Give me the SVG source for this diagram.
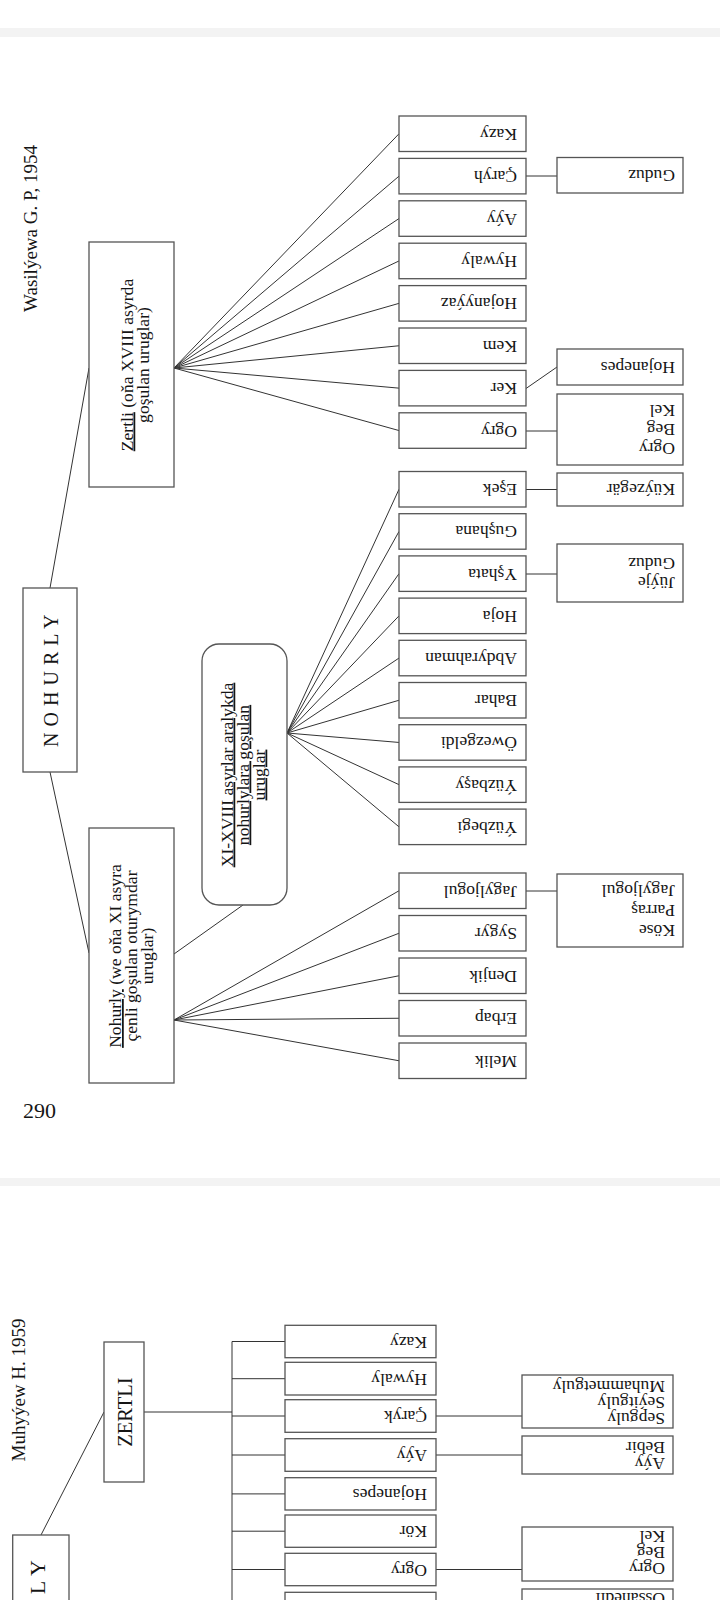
<svg xmlns="http://www.w3.org/2000/svg" width="720" height="1600" viewBox="0 0 720 1600">
<style>
.bg{fill:#ffffff}
.band{fill:#f3f3f3}
.box{fill:#ffffff;stroke:#555555;stroke-width:1.3}
.ln{stroke:#333333;stroke-width:1;fill:none}
.t{font-family:"Liberation Serif","Times New Roman",serif;font-size:17.6px;fill:#151515}
.u{text-decoration:underline}
.head{font-family:"Liberation Serif","Times New Roman",serif;font-size:19px;fill:#151515}
</style>
<rect class="bg" x="0" y="0" width="720" height="1600"/>
<rect class="band" x="0" y="28" width="720" height="9"/>
<rect class="band" x="0" y="1178" width="720" height="8"/>

<!-- connectors -->
<g id="connectors">
  <!-- page 1 -->
  <line class="ln" x1="50" y1="588" x2="89" y2="368"/>
  <line class="ln" x1="50" y1="772" x2="89" y2="953"/>
  <line class="ln" x1="174" y1="954" x2="243" y2="905"/>
  <!-- Zertli fan -->
  <line class="ln" x1="174" y1="368" x2="399" y2="133.75"/>
  <line class="ln" x1="174" y1="368" x2="399" y2="176.15"/>
  <line class="ln" x1="174" y1="368" x2="399" y2="218.55"/>
  <line class="ln" x1="174" y1="368" x2="399" y2="260.95"/>
  <line class="ln" x1="174" y1="368" x2="399" y2="303.35"/>
  <line class="ln" x1="174" y1="368" x2="399" y2="345.75"/>
  <line class="ln" x1="174" y1="368" x2="399" y2="388.15"/>
  <line class="ln" x1="174" y1="368" x2="399" y2="430.55"/>
  <!-- XI-XVIII fan -->
  <line class="ln" x1="287" y1="733" x2="399" y2="489.25"/>
  <line class="ln" x1="287" y1="733" x2="399" y2="531.45"/>
  <line class="ln" x1="287" y1="733" x2="399" y2="573.65"/>
  <line class="ln" x1="287" y1="733" x2="399" y2="615.85"/>
  <line class="ln" x1="287" y1="733" x2="399" y2="658.05"/>
  <line class="ln" x1="287" y1="733" x2="399" y2="700.25"/>
  <line class="ln" x1="287" y1="733" x2="399" y2="742.45"/>
  <line class="ln" x1="287" y1="733" x2="399" y2="784.65"/>
  <line class="ln" x1="287" y1="733" x2="399" y2="826.85"/>
  <!-- Nohurly fan -->
  <line class="ln" x1="174" y1="1020" x2="399" y2="890.75"/>
  <line class="ln" x1="174" y1="1020" x2="399" y2="933.25"/>
  <line class="ln" x1="174" y1="1020" x2="399" y2="975.75"/>
  <line class="ln" x1="174" y1="1020" x2="399" y2="1018.25"/>
  <line class="ln" x1="174" y1="1020" x2="399" y2="1060.75"/>
  <!-- sub links page 1 -->
  <line class="ln" x1="526" y1="176" x2="557" y2="176"/>
  <line class="ln" x1="526" y1="388.5" x2="557" y2="367"/>
  <line class="ln" x1="526" y1="431" x2="557" y2="431"/>
  <line class="ln" x1="526" y1="489.5" x2="557" y2="489.5"/>
  <line class="ln" x1="526" y1="574" x2="557" y2="574"/>
  <line class="ln" x1="526" y1="891" x2="557" y2="891"/>
  <!-- page 2 -->
  <line class="ln" x1="41" y1="1535" x2="104" y2="1412"/>
  <line class="ln" x1="144" y1="1412" x2="232" y2="1412"/>
  <line class="ln" x1="232" y1="1341.5" x2="232" y2="1600"/>
  <line class="ln" x1="232" y1="1341.5" x2="285" y2="1341.5"/>
  <line class="ln" x1="232" y1="1378.7" x2="285" y2="1378.7"/>
  <line class="ln" x1="232" y1="1416" x2="285" y2="1416"/>
  <line class="ln" x1="232" y1="1455" x2="285" y2="1455"/>
  <line class="ln" x1="232" y1="1493.9" x2="285" y2="1493.9"/>
  <line class="ln" x1="232" y1="1531.2" x2="285" y2="1531.2"/>
  <line class="ln" x1="232" y1="1569.5" x2="285" y2="1569.5"/>
  <line class="ln" x1="436" y1="1416" x2="522" y2="1416"/>
  <line class="ln" x1="436" y1="1455" x2="522" y2="1455"/>
  <line class="ln" x1="436" y1="1569.5" x2="522" y2="1569.5"/>
</g>

<!-- page 1 headers -->
<text class="head" x="37" y="228.5" text-anchor="middle" transform="rotate(-90 37 228.5)">Wasilýewa G. P, 1954</text>
<text class="t" x="23" y="1118" style="font-size:22px">290</text>

<g id="nohurly1">
  <rect class="box" x="23" y="588" width="54" height="184"/>
  <text class="t" x="57.5" y="680.5" text-anchor="middle" style="font-size:20px;letter-spacing:0.5px" transform="rotate(-90 57.5 680.5)">N O H U R L Y</text>
</g>

<g id="zertli1">
  <rect class="box" x="89" y="242" width="85" height="245"/>
  <text class="t" x="132.5" y="365" text-anchor="middle" transform="rotate(-90 132.5 365)"><tspan class="u">Zertli</tspan> (oňa XVIII asyrda</text>
  <text class="t" x="148.5" y="365" text-anchor="middle" transform="rotate(-90 148.5 365)">goşulan uruglar)</text>
</g>

<g id="nohurlybox">
  <rect class="box" x="89" y="828" width="85" height="255"/>
  <text class="t" x="121" y="956" text-anchor="middle" transform="rotate(-90 121 956)"><tspan class="u">Nohurly</tspan> (we oňa XI asyra</text>
  <text class="t" x="137" y="956" text-anchor="middle" transform="rotate(-90 137 956)">çenli goşulan oturymdar</text>
  <text class="t" x="153" y="956" text-anchor="middle" transform="rotate(-90 153 956)">uruglar)</text>
</g>

<g id="xi-xviii">
  <rect class="box" x="202" y="644" width="85" height="261" rx="17" ry="17"/>
  <text class="t u" x="232.5" y="775" text-anchor="middle" transform="rotate(-90 232.5 775)">XI-XVIII asyrlar aralykda</text>
  <text class="t u" x="248.5" y="775" text-anchor="middle" transform="rotate(-90 248.5 775)">nohurlylara goşulan</text>
  <text class="t u" x="264.5" y="775" text-anchor="middle" transform="rotate(-90 264.5 775)">uruglar</text>
</g>

<!-- page 1 children, group 1 -->
<g id="c-kazy"><rect class="box" x="399" y="116" width="127" height="35.5"/><text class="t" x="517" y="128.75" transform="rotate(180 517 128.75)">Kazy</text></g>
<g id="c-caryh"><rect class="box" x="399" y="158.4" width="127" height="35.5"/><text class="t" x="517" y="171.15" transform="rotate(180 517 171.15)">Çaryh</text></g>
<g id="c-ayy"><rect class="box" x="399" y="200.8" width="127" height="35.5"/><text class="t" x="517" y="213.55" transform="rotate(180 517 213.55)">Aýy</text></g>
<g id="c-hywaly"><rect class="box" x="399" y="243.2" width="127" height="35.5"/><text class="t" x="517" y="255.95" transform="rotate(180 517 255.95)">Hywaly</text></g>
<g id="c-hojanyyaz"><rect class="box" x="399" y="285.6" width="127" height="35.5"/><text class="t" x="517" y="298.35" transform="rotate(180 517 298.35)">Hojanyýaz</text></g>
<g id="c-kem"><rect class="box" x="399" y="328" width="127" height="35.5"/><text class="t" x="517" y="340.75" transform="rotate(180 517 340.75)">Kem</text></g>
<g id="c-ker"><rect class="box" x="399" y="370.4" width="127" height="35.5"/><text class="t" x="517" y="383.15" transform="rotate(180 517 383.15)">Ker</text></g>
<g id="c-ogry"><rect class="box" x="399" y="412.8" width="127" height="35.5"/><text class="t" x="517" y="425.55" transform="rotate(180 517 425.55)">Ogry</text></g>

<!-- group 2 -->
<g id="c-esek"><rect class="box" x="399" y="471.5" width="127" height="35.5"/><text class="t" x="517" y="484.25" transform="rotate(180 517 484.25)">Eşek</text></g>
<g id="c-gushana"><rect class="box" x="399" y="513.7" width="127" height="35.5"/><text class="t" x="517" y="526.45" transform="rotate(180 517 526.45)">Guşhana</text></g>
<g id="c-yshata"><rect class="box" x="399" y="555.9" width="127" height="35.5"/><text class="t" x="517" y="568.65" transform="rotate(180 517 568.65)">Yşhata</text></g>
<g id="c-hoja"><rect class="box" x="399" y="598.1" width="127" height="35.5"/><text class="t" x="517" y="610.85" transform="rotate(180 517 610.85)">Hoja</text></g>
<g id="c-abdyrahman"><rect class="box" x="399" y="640.3" width="127" height="35.5"/><text class="t" x="517" y="653.05" transform="rotate(180 517 653.05)">Abdyrahman</text></g>
<g id="c-bahar"><rect class="box" x="399" y="682.5" width="127" height="35.5"/><text class="t" x="517" y="695.25" transform="rotate(180 517 695.25)">Bahar</text></g>
<g id="c-owezgeldi"><rect class="box" x="399" y="724.7" width="127" height="35.5"/><text class="t" x="517" y="737.45" transform="rotate(180 517 737.45)">Öwezgeldi</text></g>
<g id="c-yuzbasy"><rect class="box" x="399" y="766.9" width="127" height="35.5"/><text class="t" x="517" y="779.65" transform="rotate(180 517 779.65)">Ýüzbaşy</text></g>
<g id="c-yuzbegi"><rect class="box" x="399" y="809.1" width="127" height="35.5"/><text class="t" x="517" y="821.85" transform="rotate(180 517 821.85)">Ýüzbegi</text></g>

<!-- group 3 -->
<g id="c-jagyljogul"><rect class="box" x="399" y="873" width="127" height="35.5"/><text class="t" x="517" y="885.75" transform="rotate(180 517 885.75)">Jagyljogul</text></g>
<g id="c-sygyr"><rect class="box" x="399" y="915.5" width="127" height="35.5"/><text class="t" x="517" y="928.25" transform="rotate(180 517 928.25)">Sygyr</text></g>
<g id="c-denjik"><rect class="box" x="399" y="958" width="127" height="35.5"/><text class="t" x="517" y="970.75" transform="rotate(180 517 970.75)">Denjik</text></g>
<g id="c-erbap"><rect class="box" x="399" y="1000.5" width="127" height="35.5"/><text class="t" x="517" y="1013.25" transform="rotate(180 517 1013.25)">Erbap</text></g>
<g id="c-melik"><rect class="box" x="399" y="1043" width="127" height="35.5"/><text class="t" x="517" y="1055.75" transform="rotate(180 517 1055.75)">Melik</text></g>

<!-- page 1 sub boxes -->
<g id="s-guduz"><rect class="box" x="557" y="157.5" width="126" height="35.5"/><text class="t" x="675" y="170.25" transform="rotate(180 675 170.25)">Guduz</text></g>
<g id="s-hojanepes"><rect class="box" x="557" y="349" width="126" height="36"/><text class="t" x="675" y="362" transform="rotate(180 675 362)">Hojanepes</text></g>
<g id="s-ogrybegkel"><rect class="box" x="557" y="394" width="126" height="71"/>
  <text class="t" x="675" y="442.7" transform="rotate(180 675 442.7)">Ogry</text>
  <text class="t" x="675" y="423.7" transform="rotate(180 675 423.7)">Beg</text>
  <text class="t" x="675" y="404.7" transform="rotate(180 675 404.7)">Kel</text>
</g>
<g id="s-kuyzegar"><rect class="box" x="557" y="473" width="126" height="33"/><text class="t" x="675" y="484" transform="rotate(180 675 484)">Küýzegär</text></g>
<g id="s-juyjeguduz"><rect class="box" x="557" y="544" width="126" height="58"/>
  <text class="t" x="675" y="576.7" transform="rotate(180 675 576.7)">Jüýje</text>
  <text class="t" x="675" y="557.7" transform="rotate(180 675 557.7)">Guduz</text>
</g>
<g id="s-koseparras"><rect class="box" x="557" y="874" width="126" height="73"/>
  <text class="t" x="675" y="924.7" transform="rotate(180 675 924.7)">Köse</text>
  <text class="t" x="675" y="904.7" transform="rotate(180 675 904.7)">Parraş</text>
  <text class="t" x="675" y="884.7" transform="rotate(180 675 884.7)">Jagyljogul</text>
</g>

<!-- page 2 -->
<text class="head" x="24.5" y="1390" text-anchor="middle" transform="rotate(-90 24.5 1390)">Muhyýew H. 1959</text>

<g id="nohurly2">
  <rect class="box" x="12.7" y="1535" width="56.3" height="120"/>
  <text class="t" x="45" y="1559.5" text-anchor="end" style="font-size:22px;letter-spacing:0.5px" transform="rotate(-90 45 1559.5)">N O H U R L Y</text>
</g>

<g id="zertli2">
  <rect class="box" x="104" y="1342" width="40" height="140"/>
  <text class="t" x="132" y="1412" text-anchor="middle" style="font-size:20.5px" transform="rotate(-90 132 1412)">ZERTLI</text>
</g>

<g id="p2-kazy"><rect class="box" x="285" y="1325.3" width="151" height="32.4"/><text class="t" x="427" y="1336.5" transform="rotate(180 427 1336.5)">Kazy</text></g>
<g id="p2-hywaly"><rect class="box" x="285" y="1362.3" width="151" height="32.7"/><text class="t" x="427" y="1373.7" transform="rotate(180 427 1373.7)">Hywaly</text></g>
<g id="p2-caryk"><rect class="box" x="285" y="1399.7" width="151" height="32.6"/><text class="t" x="427" y="1411" transform="rotate(180 427 1411)">Çaryk</text></g>
<g id="p2-ayy"><rect class="box" x="285" y="1438.7" width="151" height="32.6"/><text class="t" x="427" y="1450" transform="rotate(180 427 1450)">Aýy</text></g>
<g id="p2-hojanepes"><rect class="box" x="285" y="1477.7" width="151" height="32.3"/><text class="t" x="427" y="1488.9" transform="rotate(180 427 1488.9)">Hojanepes</text></g>
<g id="p2-kor"><rect class="box" x="285" y="1515" width="151" height="32.3"/><text class="t" x="427" y="1526.2" transform="rotate(180 427 1526.2)">Kör</text></g>
<g id="p2-ogry"><rect class="box" x="285" y="1553.3" width="151" height="32.4"/><text class="t" x="427" y="1564.5" transform="rotate(180 427 1564.5)">Ogry</text></g>
<g id="p2-next"><rect class="box" x="285" y="1592.3" width="151" height="32.4"/></g>

<g id="p2-s-sepguly"><rect class="box" x="522" y="1375" width="151" height="53"/>
  <text class="t" x="665" y="1413" transform="rotate(180 665 1413)">Sepguly</text>
  <text class="t" x="665" y="1397" transform="rotate(180 665 1397)">Seýitguly</text>
  <text class="t" x="665" y="1381" transform="rotate(180 665 1381)">Muhammetguly</text>
</g>
<g id="p2-s-ayybebir"><rect class="box" x="522" y="1436" width="151" height="38"/>
  <text class="t" x="665" y="1458" transform="rotate(180 665 1458)">Aýy</text>
  <text class="t" x="665" y="1442" transform="rotate(180 665 1442)">Bebir</text>
</g>
<g id="p2-s-ogrybegkel"><rect class="box" x="522" y="1527" width="151" height="54"/>
  <text class="t" x="665" y="1563" transform="rotate(180 665 1563)">Ogry</text>
  <text class="t" x="665" y="1547" transform="rotate(180 665 1547)">Beg</text>
  <text class="t" x="665" y="1531" transform="rotate(180 665 1531)">Kel</text>
</g>
<g id="p2-s-next"><rect class="box" x="522" y="1589" width="151" height="60"/>
  <text class="t" x="665" y="1593" transform="rotate(180 665 1593)">Ossanedil</text>
</g>
</svg>
